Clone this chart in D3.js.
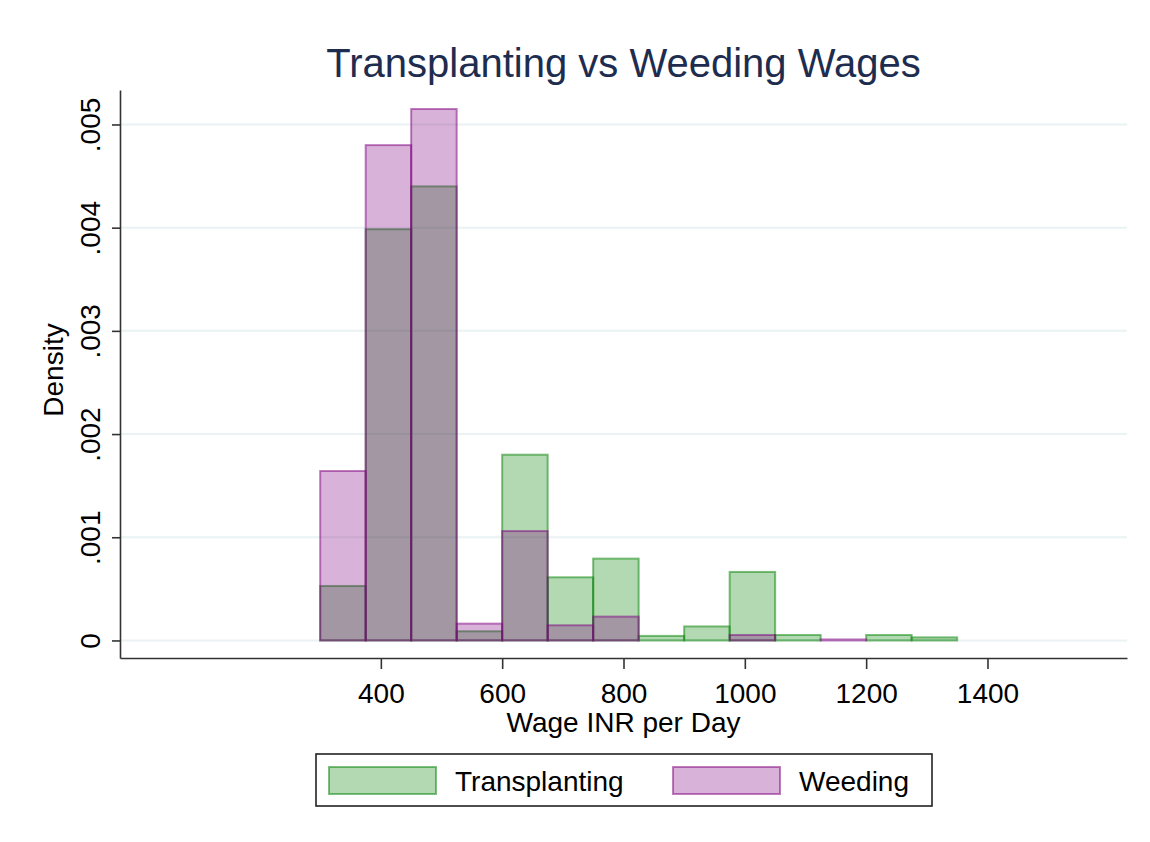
<!DOCTYPE html>
<html>
<head>
<meta charset="utf-8">
<script src="https://cdn.jsdelivr.net/npm/d3@7"></script>
<style>
  body { margin: 0; background: #fff; }
  text { font-family: "Liberation Sans", Arial, sans-serif; }
</style>
</head>
<body>
<svg id="chart" width="1150" height="842"></svg>
<script>
// Histogram bins (lower edges, width 75)
const binStarts = [300, 375, 450, 525, 600, 675, 750, 825, 900, 975, 1050, 1125, 1200, 1275];
const binWidth = 75;
const transplanting = [0.000528, 0.003985, 0.0044, 0.000089, 0.0018, 0.000612, 0.000793, 0.000044, 0.000136, 0.000664, 0.000053, 0, 0.000053, 0.00003];
const weeding = [0.001642, 0.0048, 0.00515, 0.000163, 0.00106, 0.000147, 0.000231, 0, 0, 0.000053, 0, 0.00001, 0, 0];
const xTicks = [400, 600, 800, 1000, 1200, 1400];
const yTicks = [0, 0.001, 0.002, 0.003, 0.004, 0.005];
const yTickLabels = ["0", ".001", ".002", ".003", ".004", ".005"];

const COLORS = {
  green: "rgb(0,128,0)",
  purple: "rgb(128,0,128)",
  grid: "#eaf2f3",
  axis: "#333",
  title: "#1e2d4f"
};
const FONT = "'Liberation Sans', Arial, sans-serif";

const svg = d3.select("#chart");
const plot = { left: 120, right: 1127, top: 90, bottom: 658 };

const x = d3.scaleLinear().domain([-30, 1630]).range([plot.left, plot.right]);
const y = d3.scaleLinear().domain([-0.00017, 0.005334]).range([plot.bottom, plot.top]);

// gridlines
svg.append("g")
  .selectAll("line")
  .data(yTicks)
  .join("line")
  .attr("x1", plot.left).attr("x2", plot.right)
  .attr("y1", d => y(d)).attr("y2", d => y(d))
  .attr("stroke", COLORS.grid)
  .attr("stroke-width", 2);

const series = [
  { name: "Transplanting", values: transplanting, color: COLORS.green },
  { name: "Weeding", values: weeding, color: COLORS.purple }
];

series.forEach(s => {
  svg.append("g")
    .selectAll("rect")
    .data(s.values.map((v, i) => ({ x0: binStarts[i], v })).filter(d => d.v > 0))
    .join("rect")
    .attr("x", d => x(d.x0))
    .attr("width", d => x(d.x0 + binWidth) - x(d.x0))
    .attr("y", d => y(d.v))
    .attr("height", d => Math.max(y(0) - y(d.v), 0.5))
    .attr("fill", s.color)
    .attr("fill-opacity", 0.3)
    .attr("stroke", s.color)
    .attr("stroke-opacity", 0.5)
    .attr("stroke-width", 2);
});

// x axis
const xAxis = svg.append("g")
  .attr("transform", `translate(0,${plot.bottom})`)
  .call(d3.axisBottom(x).tickValues(xTicks).tickFormat(d3.format("d")).tickSize(11).tickSizeOuter(0));
xAxis.select(".domain").attr("stroke", COLORS.axis).attr("stroke-width", 1.6);
xAxis.selectAll(".tick line").attr("stroke", COLORS.axis).attr("stroke-width", 1.6);
xAxis.selectAll(".tick text")
  .attr("font-size", 28).attr("fill", "#000").attr("font-family", FONT)
  .attr("y", 45).attr("dy", null);

// y axis
const yAxis = svg.append("g")
  .attr("transform", `translate(${plot.left},0)`)
  .call(d3.axisLeft(y).tickValues(yTicks).tickFormat((d, i) => yTickLabels[i]).tickSize(8).tickSizeOuter(0));
yAxis.select(".domain").attr("stroke", COLORS.axis).attr("stroke-width", 1.6);
yAxis.selectAll(".tick line").attr("stroke", COLORS.axis).attr("stroke-width", 1.6);
yAxis.selectAll(".tick text")
  .attr("font-size", 28).attr("fill", "#000").attr("font-family", FONT)
  .attr("x", null).attr("dy", null)
  .attr("text-anchor", "middle")
  .attr("transform", "translate(-20,0) rotate(-90)");

// titles
svg.append("text")
  .attr("x", (plot.left + plot.right) / 2).attr("y", 77)
  .attr("text-anchor", "middle")
  .attr("font-size", 40)
  .attr("fill", COLORS.title)
  .text("Transplanting vs Weeding Wages");

svg.append("text")
  .attr("x", (plot.left + plot.right) / 2).attr("y", 732)
  .attr("text-anchor", "middle")
  .attr("font-size", 28)
  .text("Wage INR per Day");

svg.append("text")
  .attr("transform", `translate(63,${(plot.top + plot.bottom) / 2 - 4}) rotate(-90)`)
  .attr("text-anchor", "middle")
  .attr("font-size", 28)
  .text("Density");

// legend
const legend = svg.append("g");
legend.append("rect")
  .attr("x", 316).attr("y", 754).attr("width", 616).attr("height", 52)
  .attr("fill", "#fff").attr("stroke", "#222").attr("stroke-width", 1.6);

const legendX = [329, 673];
series.forEach((s, i) => {
  legend.append("rect")
    .attr("x", legendX[i]).attr("y", 767).attr("width", 107).attr("height", 27)
    .attr("fill", s.color).attr("fill-opacity", 0.3)
    .attr("stroke", s.color).attr("stroke-opacity", 0.5).attr("stroke-width", 2);
  legend.append("text")
    .attr("x", legendX[i] + 126).attr("y", 791)
    .attr("font-size", 28)
    .text(s.name);
});
</script>
</body>
</html>
